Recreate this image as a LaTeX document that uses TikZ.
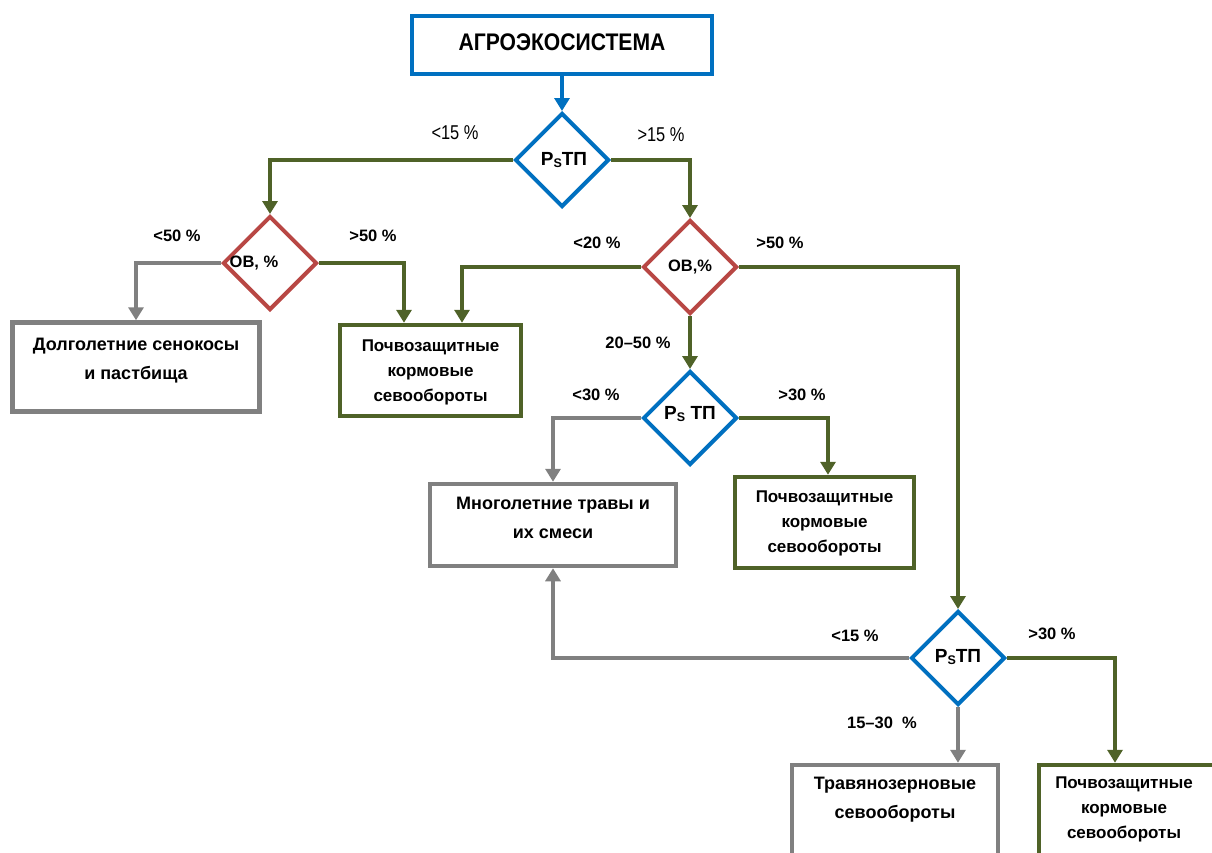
\documentclass[tikz,border=0pt]{standalone}
\usepackage{fontspec}
\setmainfont{Liberation Sans}
\newfontfamily\narrowf[FakeStretch=0.82]{Liberation Sans}
\usetikzlibrary{shapes.geometric,arrows.meta}
\definecolor{cblue}{HTML}{0070C0}
\definecolor{cred}{HTML}{B84744}
\definecolor{cgreen}{HTML}{4F6228}
\definecolor{cgray}{HTML}{808080}
\tikzset{
  dia/.style={shape=diamond,draw=#1,line width=4pt,minimum width=94pt,minimum height=94pt,inner sep=0pt,fill=white},
  box/.style={draw=#1,line width=4.5pt,fill=white,inner sep=0pt},
  txt/.style={font=\fontsize{18}{29}\selectfont\bfseries,align=center,inner sep=0pt},
  txts/.style={font=\fontsize{17}{25}\selectfont\bfseries,align=center,inner sep=0pt},
  lbl/.style={font=\fontsize{16.5}{18}\selectfont\bfseries,inner sep=0pt},
  lbln/.style={font=\fontsize{20}{22}\selectfont\narrowf,inner sep=0pt},
  dlbl/.style={font=\fontsize{19}{21}\selectfont\bfseries,inner sep=0pt},
  arr/.style={draw=#1,line width=4pt,-{Triangle[width=15pt,length=13pt]}},
}
\newcommand{\PsTP}{P\raisebox{-1.5pt}{\fontsize{12.5}{12}\selectfont S}ТП}
\newcommand{\PsTPs}{P\raisebox{-1.5pt}{\fontsize{12.5}{12}\selectfont S} ТП}
\begin{document}
\begin{tikzpicture}[x=1pt,y=-1pt]
\useasboundingbox (0,0) rectangle (1212,852);
% boxes
\node[box=cblue,minimum width=300pt,minimum height=58pt] (top) at (562,45) {};
\node[font=\fontsize{24}{26}\selectfont\bfseries\addfontfeature{FakeStretch=0.88},inner sep=0pt] (toptxt) at (562,42) {АГРОЭКОСИСТЕМА};

\node[box=cgray,minimum width=247pt,minimum height=89pt] (b1) at (136,367) {};
\node[txt] (b1t) at (136,361) {Долголетние сенокосы\\и пастбища};

\node[box=cgreen,minimum width=181pt,minimum height=91pt] (b2) at (430.5,370.5) {};
\node[txts] (b2t) at (430.5,372) {Почвозащитные\\кормовые\\севообороты};

\node[box=cgray,minimum width=246pt,minimum height=82pt] (b3) at (553,525) {};
\node[txt] (b3t) at (553,518) {Многолетние травы и\\их смеси};

\node[box=cgreen,minimum width=179pt,minimum height=91pt] (b4) at (824.5,522.5) {};
\node[txts] (b4t) at (824.5,523) {Почвозащитные\\кормовые\\севообороты};

\node[box=cgray,minimum width=206pt,minimum height=120pt] (b5) at (895,825) {};
\node[txt] (b5t) at (895,800) {Травянозерновые\\севообороты};

\node[box=cgreen,minimum width=190pt,minimum height=120pt] (b6) at (1134,825) {};
\node[txts] (b6t) at (1124,809) {Почвозащитные\\кормовые\\севообороты};

% diamonds
\node[dia=cblue] (d1) at (562,160) {};
\node[dlbl] (d1t) at (564,160) {\PsTP};
\node[dia=cred] (d2) at (270,263) {};
\node[lbl] (d2t) at (254,263) {ОВ, \%};
\node[dia=cred] (d3) at (690,267) {};
\node[lbl] (d3t) at (690,267) {ОВ,\%};
\node[dia=cblue] (d4) at (690,418) {};
\node[dlbl] (d4t) at (690,414) {\PsTPs};
\node[dia=cblue] (d5) at (958,658) {};
\node[dlbl] (d5t) at (958,657) {\PsTP};

% connectors
\draw[arr=cblue] (top.south) -- (d1.north);
\draw[arr=cgreen] (d1.west) -| (d2.north);
\draw[arr=cgreen] (d1.east) -| (d3.north);
\draw[arr=cgray] (d2.west) -| (b1.north);
\draw[arr=cgreen] (d2.east) -| ([xshift=-26.5pt]b2.north);
\draw[arr=cgreen] (d3.west) -| ([xshift=31.5pt]b2.north);
\draw[arr=cgreen] (d3.east) -| (d5.north);
\draw[arr=cgreen] (d3.south) -- (d4.north);
\draw[arr=cgray] (d4.west) -| (b3.north);
\draw[arr=cgreen] (d4.east) -| ([xshift=3.5pt]b4.north);
\draw[arr=cgray] (d5.west) -| (b3.south);
\draw[arr=cgreen] (d5.east) -| ([xshift=-19pt]b6.north);
\draw[arr=cgray] (d5.south) -- ([xshift=63pt]b5.north);

% labels
\node[lbln] (l1) at (455,133) {<15 \%};
\node[lbln] (l2) at (661,135) {>15 \%};
\node[lbl] (l3) at (177,236) {<50 \%};
\node[lbl] (l4) at (373,236) {>50 \%};
\node[lbl] (l5) at (597,243) {<20 \%};
\node[lbl] (l6) at (780,243) {>50 \%};
\node[lbl] (l7) at (638,343) {20–50 \%};
\node[lbl] (l8) at (596,395) {<30 \%};
\node[lbl] (l9) at (802,395) {>30 \%};
\node[lbl] (l10) at (855,636) {<15 \%};
\node[lbl] (l11) at (1052,634) {>30 \%};
\node[lbl] (l12) at (882,723) {15–30 \ \%};
\end{tikzpicture}
\end{document}
